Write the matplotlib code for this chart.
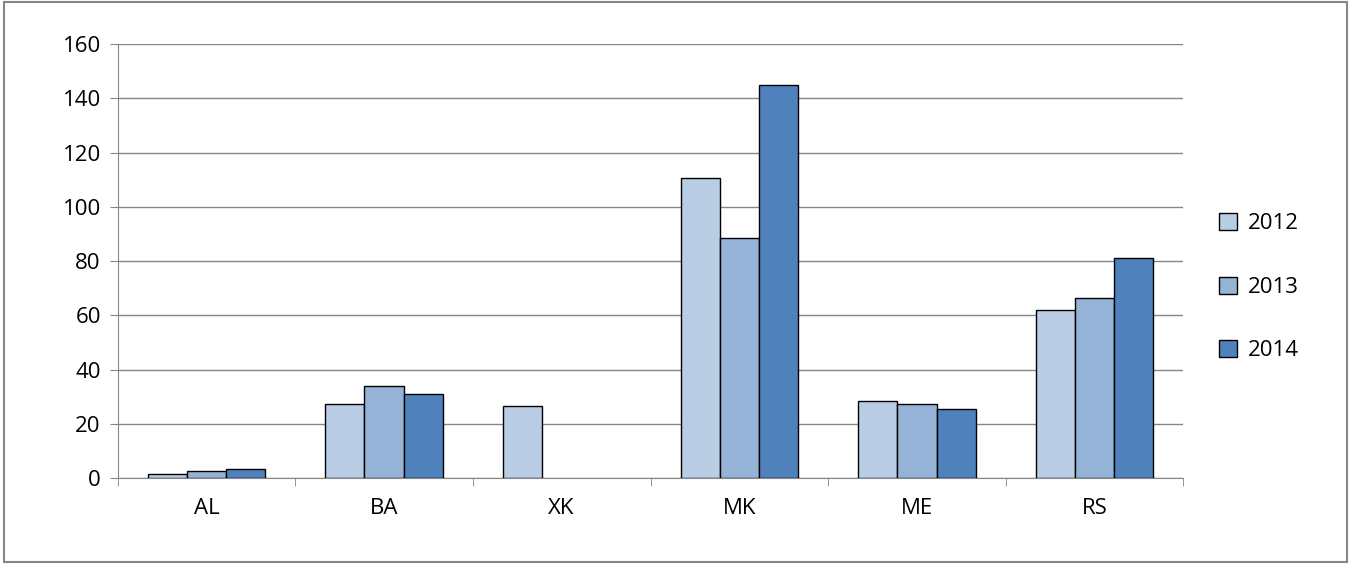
import numpy as np
import matplotlib.pyplot as plt

plt.rcParams['font.family'] = ['Open Sans', 'DejaVu Sans']

countries = ['AL', 'BA', 'XK', 'MK', 'ME', 'RS']
years = ['2012', '2013', '2014']
v2012 = [1.5, 27.5, 26.5, 110.5, 28.5, 62]
v2013 = [2.5, 34, 0, 88.5, 27.5, 66.5]
v2014 = [3.5, 31, 0, 145, 25.5, 81]
colors = ['#B9CDE5', '#95B3D7', '#4F81BD']

fig = plt.figure(figsize=(13.51, 5.64), dpi=100)
ax = fig.add_axes([0.087, 0.152, 0.789, 0.77])

x = np.arange(len(countries))
w = 0.22
for i, (vals, c, lab) in enumerate(zip([v2012, v2013, v2014], colors, years)):
    vals = np.array(vals)
    mask = vals > 0
    ax.bar(x[mask] + (i - 1) * w, vals[mask], w, color=c, edgecolor='black',
           linewidth=1, label=lab, zorder=3)

ax.set_xlim(-0.5, 5.5)
ax.set_ylim(0, 160)
ax.set_yticks(range(0, 161, 20))
ax.set_xticks(x)
ax.set_xticklabels(countries)
ax.set_xticks(np.arange(-0.5, 6, 1), minor=True)
ax.tick_params(axis='x', which='minor', length=6, color='#868686')
ax.tick_params(axis='x', which='major', length=0, pad=14)
ax.tick_params(axis='y', length=6, color='#868686', pad=6)
ax.tick_params(labelsize=16)
ax.grid(axis='y', color='#868686', linewidth=1, zorder=0)
for s in ['top', 'right']:
    ax.spines[s].set_visible(False)
for s in ['left', 'bottom']:
    ax.spines[s].set_color('#868686')

ax.legend(loc='center left', bbox_to_anchor=(1.015, 0.44), frameon=False,
          fontsize=16, handlelength=0.8, handleheight=0.8, labelspacing=1.9,
          handletextpad=0.5)

fig.patches.append(plt.Rectangle((0.003, 0.003), 0.994, 0.994, transform=fig.transFigure,
                                 fill=False, edgecolor='#868686', linewidth=1.5))
fig.savefig('out.png', dpi=100)
